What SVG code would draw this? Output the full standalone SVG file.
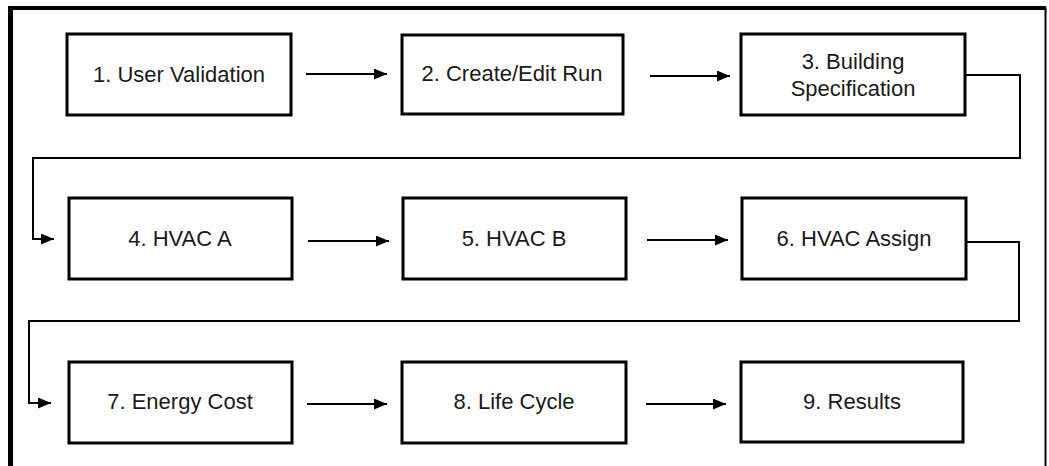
<svg xmlns="http://www.w3.org/2000/svg" width="1049" height="466" viewBox="0 0 1049 466">
  <defs>
    <marker id="arr" markerWidth="13" markerHeight="11" refX="13" refY="5.5" orient="auto" markerUnits="userSpaceOnUse">
      <path d="M0,0 L13,5.5 L0,11 Z" fill="#000"/>
    </marker>
    <style>
      .box { fill: #fff; stroke: #000; stroke-width: 3; }
      .lbl { font-family: "Liberation Sans", Arial, sans-serif; font-size: 22px; fill: #1a1a1a; text-anchor: middle; }
      .conn { fill: none; stroke: #000; stroke-width: 2; }
    </style>
  </defs>
  <rect x="0" y="0" width="1049" height="466" fill="#fff"/>
  <g id="frame">
    <line x1="10.5" y1="6" x2="10.5" y2="466" stroke="#000" stroke-width="5"/>
    <line x1="8" y1="8" x2="1046" y2="8" stroke="#000" stroke-width="4"/>
    <line x1="1045.5" y1="7" x2="1045.5" y2="466" stroke="#000" stroke-width="2"/>
  </g>
  <g id="connectors">
    <line class="conn" x1="306" y1="74" x2="387" y2="74" marker-end="url(#arr)"/>
    <line class="conn" x1="650" y1="76" x2="730" y2="76" marker-end="url(#arr)"/>
    <path class="conn" d="M966,75 H1020 V158 H33 V239 H54" marker-end="url(#arr)"/>
    <line class="conn" x1="308" y1="241" x2="389" y2="241" marker-end="url(#arr)"/>
    <line class="conn" x1="647" y1="240" x2="728" y2="240" marker-end="url(#arr)"/>
    <path class="conn" d="M967,242 H1019 V321 H29 V403 H51" marker-end="url(#arr)"/>
    <line class="conn" x1="307" y1="404" x2="387" y2="404" marker-end="url(#arr)"/>
    <line class="conn" x1="646" y1="404" x2="726" y2="404" marker-end="url(#arr)"/>
  </g>
  <g id="n1"><rect class="box" x="67" y="34" width="224" height="81"/><text class="lbl" x="179" y="82">1. User Validation</text></g>
  <g id="n2"><rect class="box" x="402" y="35" width="221" height="79"/><text class="lbl" x="512" y="81">2. Create/Edit Run</text></g>
  <g id="n3"><rect class="box" x="741" y="34" width="224" height="81"/><text class="lbl" x="853" y="69">3. Building</text><text class="lbl" x="853" y="96">Specification</text></g>
  <g id="n4"><rect class="box" x="69" y="198" width="223" height="81"/><text class="lbl" x="180" y="246">4. HVAC A</text></g>
  <g id="n5"><rect class="box" x="403" y="198" width="223" height="81"/><text class="lbl" x="514" y="246">5. HVAC B</text></g>
  <g id="n6"><rect class="box" x="742" y="198" width="224" height="81"/><text class="lbl" x="854" y="246">6. HVAC Assign</text></g>
  <g id="n7"><rect class="box" x="69" y="362" width="223" height="81"/><text class="lbl" x="180" y="409">7. Energy Cost</text></g>
  <g id="n8"><rect class="box" x="402" y="362" width="224" height="81"/><text class="lbl" x="514" y="409">8. Life Cycle</text></g>
  <g id="n9"><rect class="box" x="741" y="362" width="222" height="80"/><text class="lbl" x="852" y="409">9. Results</text></g>
</svg>
